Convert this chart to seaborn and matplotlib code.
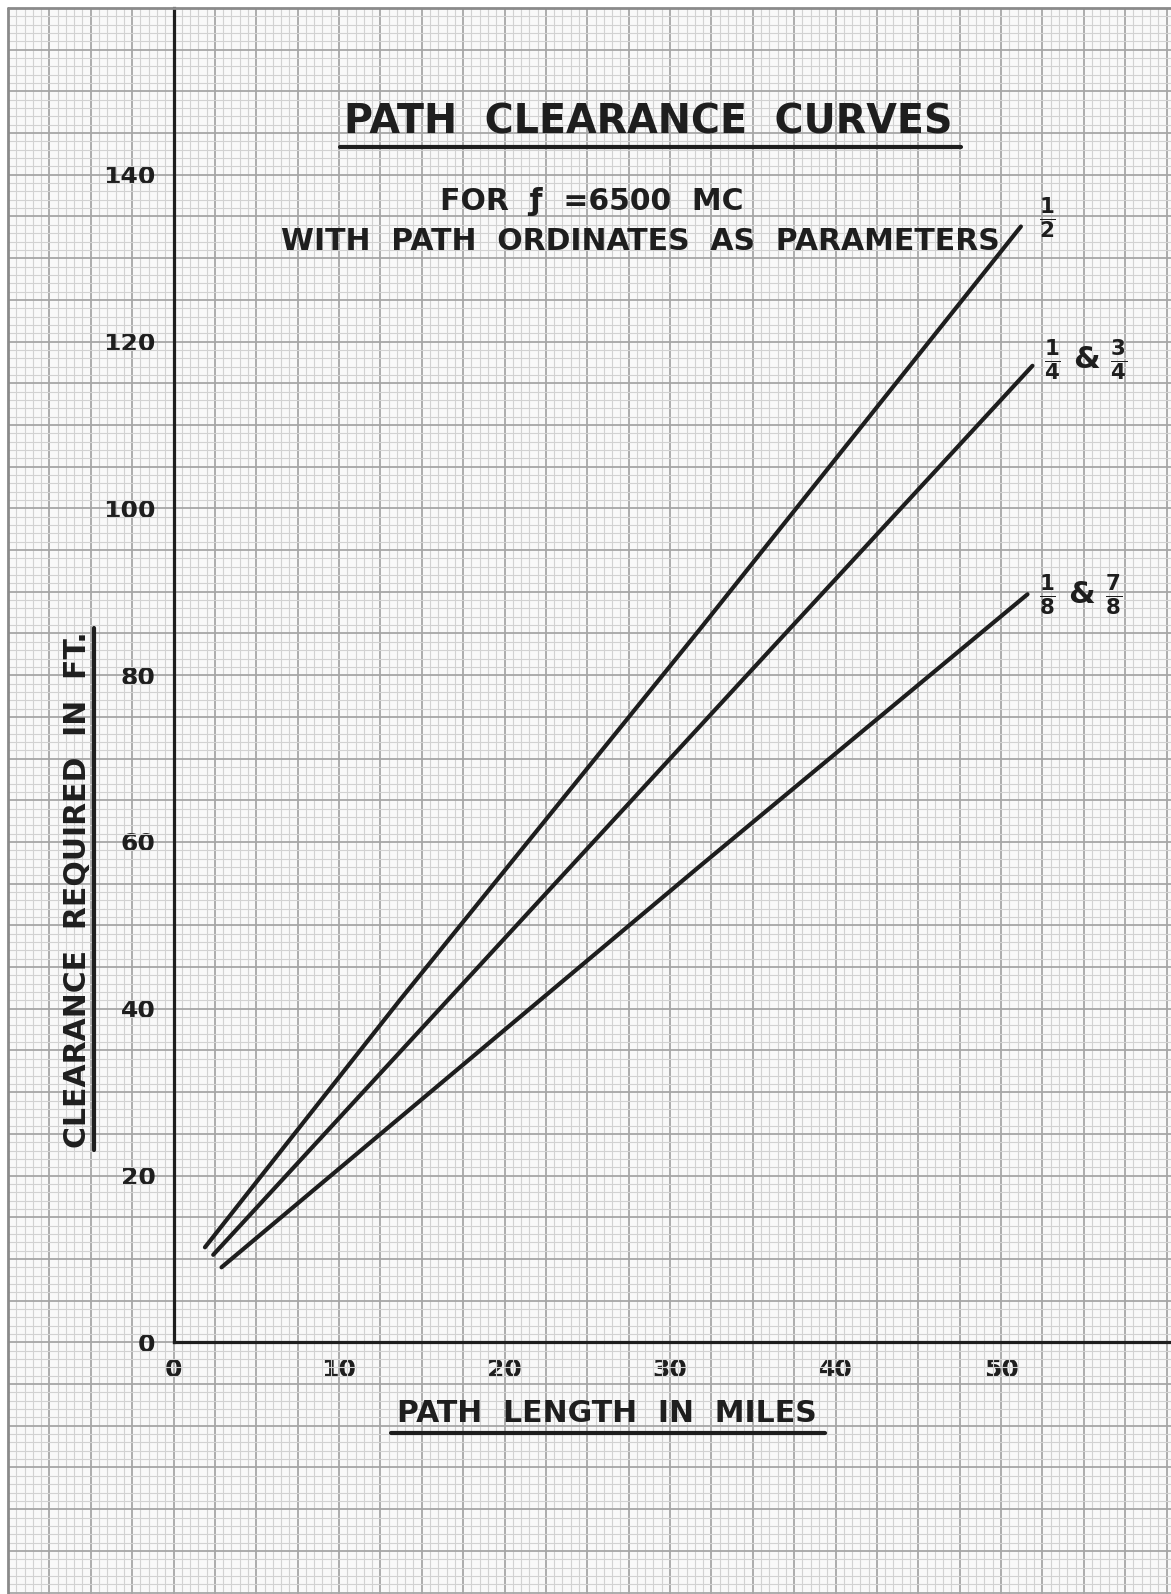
import numpy as np
import pandas as pd
import matplotlib
matplotlib.use('Agg')
import matplotlib.pyplot as plt
import seaborn as sns
from matplotlib.ticker import MultipleLocator, FuncFormatter
from matplotlib.lines import Line2D

sns.set_style('white')
plt.rcParams['font.family'] = ['DejaVu Sans']
plt.rcParams['font.weight'] = 'bold'
plt.rcParams['mathtext.fontset'] = 'dejavusans'
plt.rcParams['mathtext.default'] = 'bf'

# values (path length in miles, clearance in ft)
miles_half = [1.9, 13.7, 31.8, 51.2]
ft_half = [11.4, 41.1, 85.5, 133.8]
miles_quarter = [2.4, 14.0, 34.6, 51.9]
ft_quarter = [10.5, 35.5, 79.9, 117.1]
miles_eighth = [2.9, 18.7, 31.8, 51.6]
ft_eighth = [9.0, 35.3, 57.1, 89.7]

x_ticks = [0, 10, 20, 30, 40, 50]
y_ticks = [0, 20, 40, 60, 80, 100, 120, 140]

df = pd.concat([
    pd.DataFrame({'miles': miles_half, 'ft': ft_half, 'ordinate': '1/2'}),
    pd.DataFrame({'miles': miles_quarter, 'ft': ft_quarter, 'ordinate': '1/4 & 3/4'}),
    pd.DataFrame({'miles': miles_eighth, 'ft': ft_eighth, 'ordinate': '1/8 & 7/8'}),
])

W, H = 1171, 1594
ink = '#1e1e1e'


def px(x, y):
    # pixel position -> figure fraction
    return x / W, 1 - y / H


fig = plt.figure(figsize=(W / 100, H / 100), dpi=100)
fig.patch.set_facecolor('white')
ax = fig.add_axes([8 / W, 0, (W - 8) / W, (H - 8) / H])
ax.set_facecolor('#f9f9f9')

sns.lineplot(data=df, x='miles', y='ft', hue='ordinate', palette=[ink] * 3,
             estimator=None, sort=False, legend=False, lw=3.0, ax=ax,
             solid_capstyle='round')

ax.set_xlim(-10, 60.27)
ax.set_ylim(-30.17, 160)

# graph paper
ax.xaxis.set_major_locator(MultipleLocator(2.5))
ax.xaxis.set_minor_locator(MultipleLocator(0.5))
ax.yaxis.set_major_locator(MultipleLocator(5))
ax.yaxis.set_minor_locator(MultipleLocator(1))
ax.grid(which='major', color='#a6a6a6', lw=1.3)
ax.grid(which='minor', color='#d2d2d2', lw=0.8)
ax.set_axisbelow(True)

ax.xaxis.set_major_formatter(FuncFormatter(
    lambda v, p: f'{v:.0f}' if any(abs(v - t) < 1e-6 for t in x_ticks) else ''))
ax.yaxis.set_major_formatter(FuncFormatter(
    lambda v, p: f'{v:.0f}' if any(abs(v - t) < 1e-6 for t in y_ticks) else ''))
ax.tick_params(which='both', length=0)
ax.tick_params(axis='x', pad=11, labelsize=18, labelcolor=ink)
ax.tick_params(axis='y', pad=13, labelsize=18, labelcolor=ink)
ax.set_xlabel('')
ax.set_ylabel('')

for s in ['top', 'right']:
    ax.spines[s].set_visible(False)
ax.spines['left'].set_position(('data', 0))
ax.spines['left'].set_bounds(0, 160)
ax.spines['bottom'].set_position(('data', 0))
ax.spines['bottom'].set_bounds(0, 60.27)
for s in ['left', 'bottom']:
    ax.spines[s].set_color(ink)
    ax.spines[s].set_linewidth(2.3)

# paper edge
fig.add_artist(Line2D([8 / W, 1], [1 - 8 / H] * 2, color='#8a8a8a', lw=2))
fig.add_artist(Line2D([8 / W] * 2, [0, 1 - 8 / H], color='#8a8a8a', lw=2))

# titles
fig.text(*px(648, 122), 'PATH  CLEARANCE  CURVES', ha='center', va='center',
         fontsize=28.5, color=ink)
fig.add_artist(Line2D([340 / W, 961 / W], [1 - 147 / H] * 2, color=ink, lw=3))
fig.text(*px(592, 201), 'FOR  ƒ  =6500  MC', ha='center', va='center',
         fontsize=21.5, color=ink)
fig.text(*px(640, 242), 'WITH  PATH  ORDINATES  AS  PARAMETERS', ha='center',
         va='center', fontsize=21.5, color=ink)

# axis labels
fig.text(*px(607, 1413), 'PATH  LENGTH  IN  MILES', ha='center', va='center',
         fontsize=21.5, color=ink)
fig.add_artist(Line2D([391 / W, 825 / W], [1 - 1433 / H] * 2, color=ink, lw=3))
fig.text(*px(78, 890), 'CLEARANCE  REQUIRED  IN  FT.', ha='center', va='center',
         rotation=90, fontsize=21.5, color=ink)
fig.add_artist(Line2D([94 / W] * 2, [1 - 628 / H, 1 - 1150 / H], color=ink, lw=3))

# curve parameters
fig.text(*px(1047, 218), r'$\frac{1}{2}$', ha='center', va='center',
         fontsize=22, color=ink)
fig.text(*px(1086, 360), r'$\frac{1}{4}$ & $\frac{3}{4}$', ha='center',
         va='center', fontsize=22, color=ink)
fig.text(*px(1081, 595), r'$\frac{1}{8}$ & $\frac{7}{8}$', ha='center',
         va='center', fontsize=22, color=ink)

fig.savefig('out.png', dpi=100, facecolor='white')
